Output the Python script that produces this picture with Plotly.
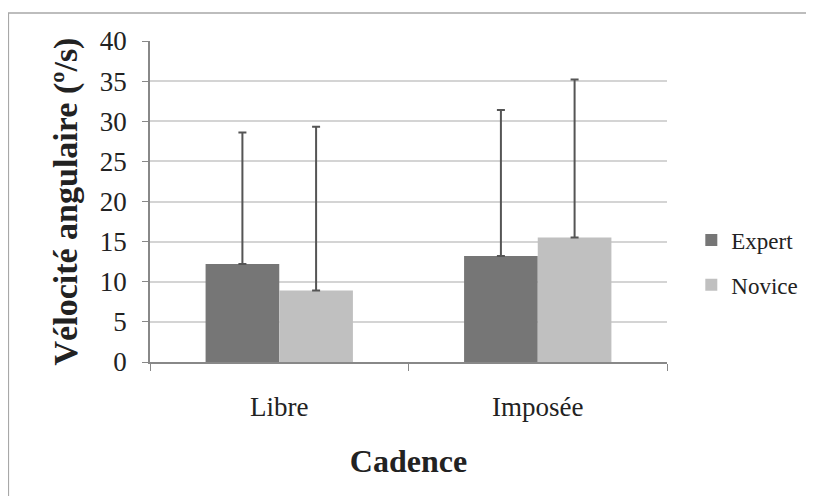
import plotly.graph_objects as go

categories = ["Libre", "Imposée"]
expert_mean = [12.2, 13.2]
expert_sd = [16.4, 18.2]
novice_mean = [8.9, 15.5]
novice_sd = [20.4, 19.7]
y_ticks = [0, 5, 10, 15, 20, 25, 30, 35, 40]

serif = "Liberation Serif, DejaVu Serif, serif"

fig = go.Figure()
fig.add_trace(go.Bar(
    x=categories, y=expert_mean, name="Expert", legendgroup="e",
    marker=dict(color="#767676", line=dict(width=0)),
    error_y=dict(type="data", array=expert_sd, arrayminus=[0, 0], symmetric=False,
                 color="#555555", thickness=2, width=4),
))
fig.add_trace(go.Bar(
    x=categories, y=novice_mean, name="Novice", legendgroup="n",
    marker=dict(color="#c0c0c0", line=dict(width=0)),
    error_y=dict(type="data", array=novice_sd, arrayminus=[0, 0], symmetric=False,
                 color="#555555", thickness=2, width=4),
))

fig.update_layout(
    width=806, height=488,
    margin=dict(l=142, r=146, t=33, b=134),
    paper_bgcolor="white", plot_bgcolor="white",
    barmode="group", bargap=0.43, bargroupgap=0,
    font=dict(family=serif, size=27, color="#222222"),
    showlegend=True,
    legend=dict(x=1.045, y=0.31, xanchor="left", yanchor="middle",
                font=dict(size=23, family=serif), tracegroupgap=12,
                itemwidth=30, borderwidth=0,
                bgcolor="rgba(0,0,0,0)"),
    xaxis=dict(
        title=dict(text="<b>Cadence</b>", font=dict(size=32, family=serif), standoff=28),
        showline=True, linecolor="#888888", linewidth=1.5,
        ticks="outside", tickson="boundaries", ticklen=7, tickcolor="#888888",
        tickfont=dict(size=27, family=serif), showgrid=False, ticklabelstandoff=20,
    ),
    yaxis=dict(
        title=dict(text="<b>Vélocité angulaire (º/s)</b>", font=dict(size=34, family=serif), standoff=12),
        range=[0, 40], tickvals=y_ticks,
        showline=True, linecolor="#888888", linewidth=1.5,
        ticks="outside", ticklen=6, tickcolor="#888888",
        showgrid=True, gridcolor="#d4d4d4", gridwidth=1.5,
        tickfont=dict(size=27, family=serif), zeroline=False, ticklabelstandoff=10,
    ),
    shapes=[dict(type="rect", xref="paper", yref="paper",
                 x0=-0.274, x1=1.30, y0=-0.45, y1=1.087,
                 line=dict(color="#a8a8a8", width=1.5), fillcolor="rgba(0,0,0,0)", layer="below")],
)

fig.write_html("out.html")
